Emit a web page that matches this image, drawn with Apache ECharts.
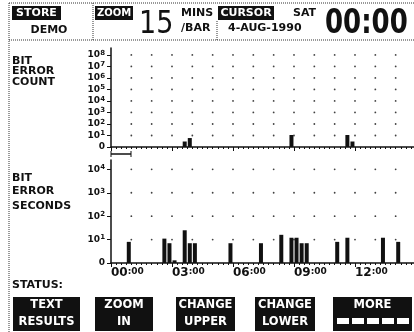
<!DOCTYPE html>
<html>
<head>
<meta charset="utf-8">
<script src="https://cdn.jsdelivr.net/npm/echarts@6/dist/echarts.min.js"></script>
<style>
  html, body { margin: 0; padding: 0; background: #fff; }
  #chart { width: 414px; height: 332px; }
</style>
</head>
<body>
<div id="chart"></div>
<script>
// time axis: hours from 00:00, one bar = 15 minutes
const hourLabels = ['00:00', '03:00', '06:00', '09:00', '12:00'];
const hourLabelValues = [0, 3, 6, 9, 12];
const countDecades = [0, 1, 2, 3, 4, 5, 6, 7, 8];
const secondsDecades = [0, 1, 2, 3, 4];

// bit error count per 15 min bin
const countBins = [14, 15, 35, 46, 47];
const countValues = [3, 6, 11, 11, 3];

// bit error seconds per 15 min bin
const secondsBins = [3, 10, 11, 12, 14, 15, 16, 23, 29, 33, 35, 36, 37, 38, 44, 46, 53, 56];
const secondsValues = [8, 11, 7, 1.3, 25, 7, 7, 7, 7, 16, 12, 12, 7, 7, 8, 12, 12, 8];

const INK = '#111';
const FONT = '"DejaVu Sans", sans-serif';

// log display: 0 sits at the bottom, 10^n at n
const toPos = (v) => (v > 0 ? Math.log10(v) : 0);
const binToHour = (b) => (b + 0.5) / 4;

const countData = countBins.map((b, i) => [binToHour(b), toPos(countValues[i])]);
const secondsData = secondsBins.map((b, i) => [binToHour(b), toPos(secondsValues[i])]);

// dotted graticule: one dot per hour per decade
const dots = (decades) => {
  const out = [];
  for (let h = 1; h <= 14; h++) {
    decades.forEach((d) => { if (d > 0) out.push([h, d]); });
  }
  return out;
};

const yLabel = {
  color: INK,
  margin: 6,
  formatter: (v) => (v === 0 ? '{b|0}' : '{b|10}{s|' + v + '}'),
  rich: {
    b: { fontSize: 9, fontWeight: 'bold', fontFamily: FONT, color: INK },
    s: { fontSize: 7, fontWeight: 'bold', fontFamily: FONT, color: INK, verticalAlign: 'top', padding: [0, 0, 4, 0] },
  },
};

const xCommon = {
  type: 'value',
  min: 0,
  max: 15,
  interval: 3,
  axisLine: { show: true, lineStyle: { color: INK, width: 1.5 } },
  axisTick: { show: true, length: 4, lineStyle: { color: INK } },
  minorTick: { show: true, splitNumber: 12, length: 2, lineStyle: { color: INK } },
  splitLine: { show: false },
};

const text = (str, x, y, size, opts = {}) => ({
  type: 'text',
  x, y,
  scaleY: opts.scaleY || 1,
  style: {
    text: str,
    fill: opts.fill || INK,
    font: (opts.weight || 'bold') + ' ' + size + 'px ' + FONT,
    textAlign: opts.align || 'left',
    textVerticalAlign: opts.valign || 'middle',
  },
});
const box = (x, y, w, h) => ({ type: 'rect', shape: { x, y, width: w, height: h }, style: { fill: INK } });
const dotted = (x1, y1, x2, y2) => ({
  type: 'line',
  shape: { x1, y1, x2, y2 },
  style: { stroke: '#333', lineWidth: 1, lineDash: [1, 1] },
});
const button = (x, w, l1, l2) => [
  box(x, 297, w, 34),
  text(l1, x + w / 2, 305, 11.5, { fill: '#fff', align: 'center' }),
  l2 ? text(l2, x + w / 2, 322, 11.5, { fill: '#fff', align: 'center' }) : null,
].filter(Boolean);

const chart = echarts.init(document.getElementById('chart'));
const option = {
  backgroundColor: '#fff',
  animation: false,
  grid: [
    { left: 111, right: -2, top: 48, bottom: 185, containLabel: false, outerBoundsMode: 'none' },
    { left: 111, right: -2, top: 160, bottom: 69, containLabel: false, outerBoundsMode: 'none' },
  ],
  xAxis: [
    Object.assign({}, xCommon, { gridIndex: 0, axisLabel: { show: false } }),
    Object.assign({}, xCommon, {
      gridIndex: 1,
      axisLabel: {
        show: true,
        customValues: hourLabelValues,
        align: 'left',
        margin: 4,
        formatter: (v) => {
          const t = hourLabels[hourLabelValues.indexOf(v)] || '';
          const [hh, mm] = t.split(':');
          return '{h|' + hh + '}{m|:' + mm + '}';
        },
        rich: {
          h: { fontSize: 12, fontWeight: 'bold', fontFamily: FONT, color: INK },
          m: { fontSize: 9, fontWeight: 'bold', fontFamily: FONT, color: INK, verticalAlign: 'top' },
        },
      },
    }),
  ],
  yAxis: [
    {
      type: 'value', gridIndex: 0, min: 0, max: 8.6,
      axisLine: { show: true, lineStyle: { color: INK, width: 1.5 } },
      axisTick: { show: true, length: 4, customValues: countDecades, lineStyle: { color: INK } },
      axisLabel: Object.assign({ customValues: countDecades }, yLabel),
      splitLine: { show: false },
    },
    {
      type: 'value', gridIndex: 1, min: 0, max: 4.4,
      axisLine: { show: true, lineStyle: { color: INK, width: 1.5 } },
      axisTick: { show: true, length: 4, customValues: secondsDecades, lineStyle: { color: INK } },
      axisLabel: Object.assign({ customValues: secondsDecades }, yLabel),
      splitLine: { show: false },
    },
  ],
  series: [
    {
      type: 'scatter', xAxisIndex: 0, yAxisIndex: 0, silent: true,
      symbolSize: 1.8, itemStyle: { color: INK }, data: dots(countDecades),
    },
    {
      type: 'scatter', xAxisIndex: 1, yAxisIndex: 1, silent: true,
      symbolSize: 1.8, itemStyle: { color: INK }, data: dots(secondsDecades),
    },
    {
      name: 'BIT ERROR COUNT', type: 'bar', xAxisIndex: 0, yAxisIndex: 0,
      barWidth: 4, itemStyle: { color: INK }, data: countData,
    },
    {
      name: 'BIT ERROR SECONDS', type: 'bar', xAxisIndex: 1, yAxisIndex: 1,
      barWidth: 4, itemStyle: { color: INK }, data: secondsData,
    },
  ],
  graphic: [
    // frame
    dotted(9, 3, 414, 3),
    dotted(9, 3, 9, 332),
    dotted(9, 40, 414, 40),
    dotted(93, 3, 93, 40),
    dotted(217, 21, 217, 40),
    // header
    box(12, 6, 49, 14),
    text('STORE', 36.5, 13.5, 11, { fill: '#fff', align: 'center' }),
    text('DEMO', 49, 30, 11, { align: 'center' }),
    box(95, 6, 38, 14),
    text('ZOOM', 114, 13.5, 10, { fill: '#fff', align: 'center' }),
    text('15', 139, 8, 27, { weight: 'normal', valign: 'top', scaleY: 1.2 }),
    text('MINS', 181, 13, 11),
    text('/BAR', 181, 28, 11),
    box(218, 6, 56, 14),
    text('CURSOR', 246, 13.5, 11, { fill: '#fff', align: 'center' }),
    text('SAT', 293, 13, 11),
    text('4-AUG-1990', 228, 28, 11),
    text('00:00', 325, 7, 26, { valign: 'top', scaleY: 1.3 }),
    // side labels
    text('BIT', 12, 61, 11),
    text('ERROR', 12, 71, 11),
    text('COUNT', 12, 82, 11),
    text('BIT', 12, 178, 11),
    text('ERROR', 12, 191, 11),
    text('SECONDS', 12, 206, 11),
    text('STATUS:', 12, 285, 11),
    // one hour marker
    { type: 'line', shape: { x1: 111, y1: 154, x2: 131, y2: 154 }, style: { stroke: INK, lineWidth: 1.5 } },
    { type: 'line', shape: { x1: 111, y1: 151, x2: 111, y2: 157 }, style: { stroke: INK, lineWidth: 1 } },
    { type: 'line', shape: { x1: 131, y1: 151, x2: 131, y2: 157 }, style: { stroke: INK, lineWidth: 1 } },
    // soft keys
    ...button(13, 67, 'TEXT', 'RESULTS'),
    ...button(95, 58, 'ZOOM', 'IN'),
    ...button(176, 59, 'CHANGE', 'UPPER'),
    ...button(255, 60, 'CHANGE', 'LOWER'),
    ...button(333, 79, 'MORE', null),
    { type: 'rect', shape: { x: 337, y: 318, width: 12, height: 6 }, style: { fill: '#fff' } },
    { type: 'rect', shape: { x: 352, y: 318, width: 12, height: 6 }, style: { fill: '#fff' } },
    { type: 'rect', shape: { x: 367, y: 318, width: 12, height: 6 }, style: { fill: '#fff' } },
    { type: 'rect', shape: { x: 382, y: 318, width: 12, height: 6 }, style: { fill: '#fff' } },
    { type: 'rect', shape: { x: 397, y: 318, width: 12, height: 6 }, style: { fill: '#fff' } },
  ],
};
chart.setOption(option);
</script>
</body>
</html>
